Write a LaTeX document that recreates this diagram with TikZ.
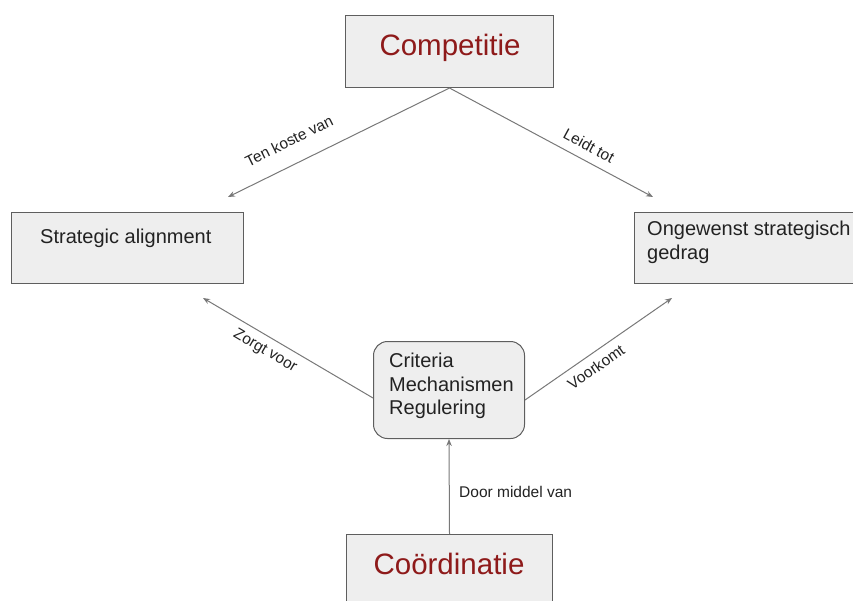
\documentclass[tikz,border=0pt]{standalone}
\usepackage{fontspec}
\setmainfont{Liberation Sans}
\usetikzlibrary{arrows.meta}
\definecolor{boxfill}{HTML}{EEEEEE}
\definecolor{boxline}{HTML}{5E5E5E}
\definecolor{arrowgrey}{HTML}{787878}
\definecolor{titlered}{HTML}{8E1A1A}
\definecolor{inktext}{HTML}{222222}

\begin{document}
\begin{tikzpicture}[x=1pt,y=-1pt,
  box/.style={draw=boxline, fill=boxfill, line width=1pt, inner sep=0pt, anchor=north west},
  roundbox/.style={box, rounded corners=14pt},
  conn/.style={draw=arrowgrey, line width=1pt, -{Stealth[length=7pt,width=5.5pt]}},
  bigtitle/.style={font=\fontsize{29.5}{34}\selectfont, text=titlered, inner sep=0pt},
  bodytext/.style={font=\fontsize{20}{23.5}\selectfont, text=inktext, inner sep=0pt, align=left},
  edgetext/.style={font=\fontsize{15.5}{18}\selectfont, text=inktext, inner sep=0pt}]

\useasboundingbox (0,0) rectangle (853,600);
\clip (0,0) rectangle (853,600);

% boxes
\node[box, minimum width=208pt, minimum height=72pt] (comp) at (345,15) {};
\node[box, minimum width=232pt, minimum height=71pt] (align) at (11,212) {};
\node[box, minimum width=230pt, minimum height=71pt] (gedrag) at (634,212) {};
\node[roundbox, minimum width=151pt, minimum height=97pt] (crit) at (373,341) {};
\node[box, minimum width=206pt, minimum height=90pt] (coord) at (346,534) {};

% box texts
\node[bigtitle] (compt) at (450,48) {Competitie};
\node[bigtitle] (coordt) at (449,564) {Coördinatie};
\node[bodytext, anchor=west] (alignt) at (40,238) {Strategic alignment};
\node[bodytext, anchor=north west] (gedragt) at (647,221) {Ongewenst strategisch\\gedrag};
\node[bodytext, anchor=north west] (critt) at (389,353) {Criteria\\Mechanismen\\Regulering};

% arrow tips that stop short of their boxes
\coordinate (tipA) at (228,197);
\coordinate (tipB) at (653,197);
\coordinate (tipC) at (203,298);
\coordinate (tipD) at (672,298);
\coordinate (startC) at (373,398);
\coordinate (startD) at (525,400);

% connectors
\draw[conn] (comp.south) -- (tipA);
\draw[conn] (comp.south) -- (tipB);
\draw[conn] (startC) -- (tipC);
\draw[conn] (startD) -- (tipD);
\draw[conn] (coord.north) -- (crit.south);

% connector labels
\node[edgetext, rotate=26.3] (lblA) at (289,141) {Ten koste van};
\node[edgetext, rotate=-28.6] (lblB) at (589,146) {Leidt tot};
\node[edgetext, rotate=-30.5] (lblC) at (265,351) {Zorgt voor};
\node[edgetext, rotate=35] (lblD) at (596,367) {Voorkomt};
\node[edgetext, anchor=west] (lblE) at (459,492) {Door middel van};
\end{tikzpicture}
\end{document}
